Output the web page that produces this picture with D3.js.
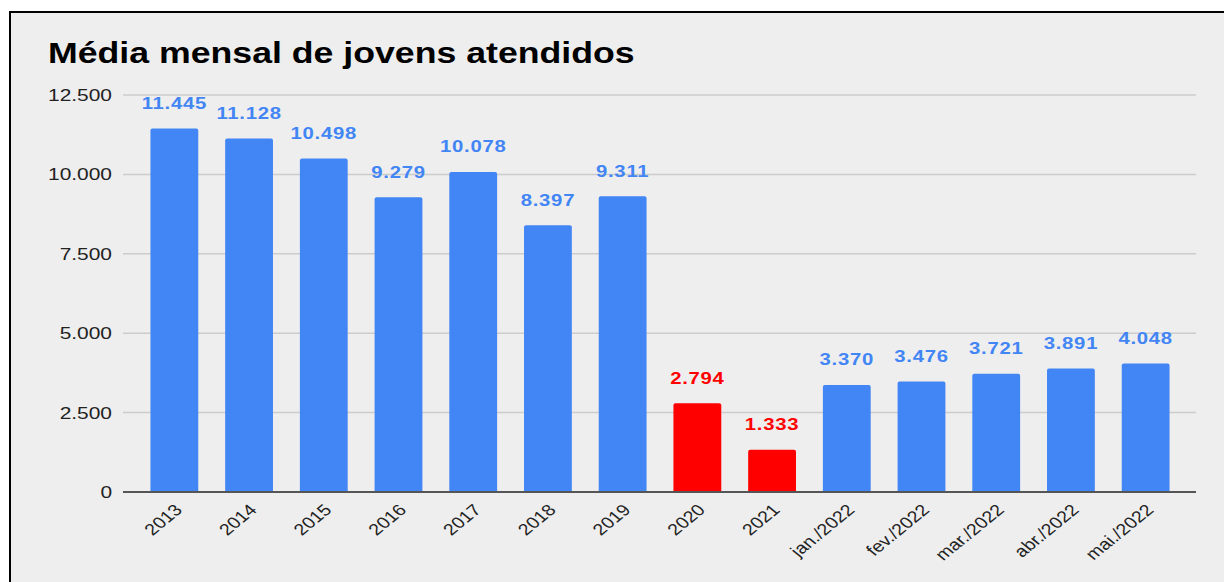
<!DOCTYPE html>
<html><head><meta charset="utf-8">
<script src="https://cdn.jsdelivr.net/npm/d3@7"></script>
<style>body{margin:0;background:#fff}svg{display:block}</style>
</head><body>
<svg id="c" width="1224" height="582"></svg>
<script>
const categories = ["2013","2014","2015","2016","2017","2018","2019","2020","2021","jan./2022","fev./2022","mar./2022","abr./2022","mai./2022"];
const values = [11445,11128,10498,9279,10078,8397,9311,2794,1333,3370,3476,3721,3891,4048];
const highlighted = ["2020","2021"];
const yTicks = [0,2500,5000,7500,10000,12500];
const title = "Média mensal de jovens atendidos";

const SX = 1.23; // horizontal text stretch seen in the reference
const FF = "Liberation Sans, Arial, sans-serif";
const svg = d3.select("#c");
const fmt = v => d3.format(",")(v).replace(/,/g,".");
svg.append("rect").attr("x",10).attr("y",12).attr("width",1214).attr("height",570).attr("fill","#eeeeee");
svg.append("line").attr("x1",9).attr("x2",1224).attr("y1",12).attr("y2",12).attr("stroke","#000").attr("stroke-width",2);
svg.append("line").attr("x1",10).attr("x2",10).attr("y1",11).attr("y2",582).attr("stroke","#000").attr("stroke-width",2);

svg.append("text").attr("transform",`translate(48,63) scale(${SX},1)`).text(title)
  .attr("font-family",FF).attr("font-weight","bold").attr("font-size",29).attr("fill","#000");

const y = d3.scaleLinear().domain([0,12500]).range([492,95]);
const x = d3.scaleBand().domain(categories).range([137,1183]).paddingInner(0.36).paddingOuter(0.18);

const g = svg.append("g");
g.selectAll("line.grid").data(yTicks.filter(d=>d>0)).join("line")
  .attr("x1",123).attr("x2",1196).attr("y1",d=>y(d)).attr("y2",d=>y(d)).attr("stroke","#cccccc").attr("stroke-width",1.5);
g.selectAll("text.yt").data(yTicks).join("text")
  .attr("transform",d=>`translate(112,${y(d)+6}) scale(${SX},1)`).attr("text-anchor","end").text(fmt)
  .attr("font-family",FF).attr("font-size",17).attr("fill","#222");

g.selectAll("path.bar").data(values).join("path")
  .attr("d",(d,i)=>{const x0=x(categories[i]),w=x.bandwidth(),y0=y(d),r=2,yb=y(0);
     return `M${x0},${yb}V${y0+r}Q${x0},${y0} ${x0+r},${y0}H${x0+w-r}Q${x0+w},${y0} ${x0+w},${y0+r}V${yb}Z`;})
  .attr("fill",(d,i)=>highlighted.includes(categories[i])?"#ff0000":"#4285f4");

g.selectAll("text.lbl").data(values).join("text")
  .attr("transform",(d,i)=>`translate(${x(categories[i])+x.bandwidth()/2},${y(d)-19.5}) scale(${SX},1)`)
  .attr("text-anchor","middle").text(fmt)
  .attr("font-family",FF).attr("font-weight","bold").attr("font-size",16.5)
  .attr("letter-spacing","0.6px")
  .attr("fill",(d,i)=>highlighted.includes(categories[i])?"#ff0000":"#4285f4");

g.append("line").attr("x1",123).attr("x2",1196).attr("y1",y(0)).attr("y2",y(0)).attr("stroke","#555").attr("stroke-width",2);

g.selectAll("text.xt").data(categories).join("text")
  .attr("transform",d=>`translate(${x(d)+x.bandwidth()/2+9},511) scale(${SX},1) rotate(-45)`)
  .attr("text-anchor","end").text(d=>d)
  .attr("font-family",FF).attr("font-size",16).attr("fill","#222");
</script>
</body></html>
